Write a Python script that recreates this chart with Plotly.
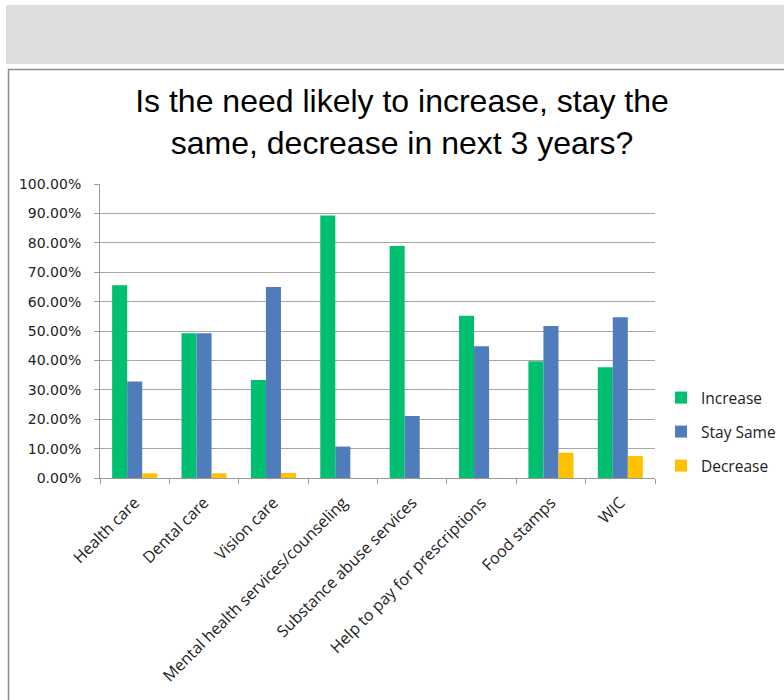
import plotly.graph_objects as go

categories = ["Health care", "Dental care", "Vision care",
              "Mental health services/counseling", "Substance abuse services",
              "Help to pay for prescriptions", "Food stamps", "WIC"]
increase = [0.656, 0.492, 0.333, 0.893, 0.789, 0.552, 0.397, 0.377]
stay_same = [0.328, 0.492, 0.650, 0.107, 0.211, 0.448, 0.517, 0.547]
decrease = [0.016, 0.016, 0.017, 0.0, 0.0, 0.0, 0.086, 0.075]
series_names = ["Increase", "Stay Same", "Decrease"]
series_colors = ["#00BF6F", "#4F7CBA", "#FFC000"]
y_ticks = [0, 0.1, 0.2, 0.3, 0.4, 0.5, 0.6, 0.7, 0.8, 0.9, 1.0]

W, H = 784, 700
L, R, T, B = 100, 655, 184, 478  # plot area in pixels


def px_x(p):
    return (p - L) / (R - L)


def px_y(p):
    return (B - p) / (B - T)


fig = go.Figure()
legend_rows = [398, 432, 466]
for i, (name, vals, col) in enumerate(zip(series_names, [increase, stay_same, decrease], series_colors)):
    lg = "legend" if i == 0 else f"legend{i+1}"
    fig.add_trace(go.Bar(x=categories, y=vals, name=name, marker_color=col,
                         marker_line_width=0, legend=lg, showlegend=True))

axis_label_font = dict(family="Open Sans, Lato, sans-serif", size=16, color="#222222")
legend_font = dict(family="Open Sans, Lato, sans-serif", size=15.5, color="#222222")
legend_common = dict(x=px_x(661), xanchor="left", yanchor="middle",
                     font=legend_font, bgcolor="rgba(0,0,0,0)", itemwidth=30,
                     borderwidth=0, visible=True)

fig.update_layout(
    width=W, height=H,
    showlegend=True,
    margin=dict(l=L, r=W - R, t=T, b=H - B, pad=0, autoexpand=False),
    paper_bgcolor="white", plot_bgcolor="white",
    barmode="group", bargap=0.35, bargroupgap=0,
    title=dict(text="Is the need likely to increase, stay the<br>same, decrease in next 3 years?",
               x=402 / W, xanchor="center", y=1 - 112 / H, yanchor="middle",
               font=dict(family="Liberation Sans, Arial, sans-serif", size=32, color="#000000")),
    xaxis=dict(tickangle=-45, tickfont=axis_label_font, showgrid=False,
               showline=True, linecolor="#9a9a9a", linewidth=1,
               ticks="outside", ticklen=5, tickcolor="#9a9a9a",
               tickson="boundaries", ticklabelstandoff=8),
    yaxis=dict(range=[0, 1.0], tickvals=y_ticks, tickformat=".2%",
               tickfont=dict(family="DejaVu Sans, Verdana, sans-serif", size=14, color="#222222"),
               showgrid=True, gridcolor="#a6a6a6", gridwidth=1,
               showline=True, linecolor="#9a9a9a", linewidth=1,
               ticks="outside", ticklen=5, tickcolor="#9a9a9a", zeroline=False,
               ticklabelstandoff=10),
    legend=dict(y=px_y(legend_rows[0]), **legend_common),
    legend2=dict(y=px_y(legend_rows[1]), **legend_common),
    legend3=dict(y=px_y(legend_rows[2]), **legend_common),
    shapes=[
        dict(type="rect", xref="paper", yref="paper",
             x0=px_x(6), x1=px_x(790), y0=px_y(5), y1=px_y(64),
             fillcolor="#DEDEDE", line_width=0, layer="below"),
        dict(type="rect", xref="paper", yref="paper",
             x0=px_x(8.5), x1=px_x(800), y0=px_y(69.5), y1=px_y(710),
             fillcolor="rgba(0,0,0,0)", line=dict(color="#8c8c8c", width=1.5), layer="below"),
    ],
)

fig.write_html("out.html", config={"displayModeBar": False},
               post_script="document.body.style.margin='0';")
